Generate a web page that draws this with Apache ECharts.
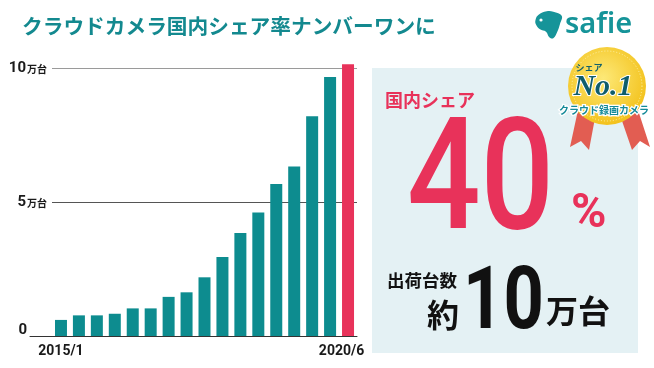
<!DOCTYPE html>
<html>
<head>
<meta charset="utf-8">
<script src="https://cdn.jsdelivr.net/npm/echarts@6/dist/echarts.min.js"></script>
<style>
html,body{margin:0;padding:0;background:#fff;}
#c{width:654px;height:368px;}
</style>
</head>
<body>
<div id="c"></div>
<script>
// ---- data ----
const categories = ['2015/1','2015/5','2015/9','2016/1','2016/5','2016/9','2017/1','2017/5','2017/9','2018/1','2018/5','2018/9','2019/1','2019/5','2019/9','2020/1','2020/6'];
const shipments = [0.60,0.77,0.77,0.83,1.03,1.03,1.46,1.63,2.19,2.95,3.84,4.61,5.67,6.32,8.20,9.66,10.14]; // 万台
const yTicks = [0, 5, 10];
const titleText = 'クラウドカメラ国内シェア率ナンバーワンに';
const shareLabel = '国内シェア';
const shareValue = '40';
const shipLabel = '出荷台数';
const shipValue = '10';

const TEAL = '#0d8c8f';
const RED = '#e8325a';
const NUM_FONT = "Roboto,sans-serif";
const JP = "'Noto Sans CJK JP',sans-serif";

const chart = echarts.init(document.getElementById('c'), null, {renderer:'canvas'});
const lastIdx = shipments.length - 1;

const barData = shipments.map((v, i) => i === lastIdx ? {value: v, itemStyle: {color: RED}} : v);

const option = {
  animation: false,
  backgroundColor: '#fff',
  grid: [
    {left: 52, right: 297, top: 68, bottom: 32},
    {left: 30, right: 297, top: 68, bottom: 32}
  ],
  xAxis: [
    {
      type: 'category', gridIndex: 0, data: categories,
      axisLine: {show: false}, axisTick: {show: false},
      axisLabel: {
        interval: (i) => i === 0 || i === lastIdx,
        margin: 8,
        color: '#1a1a1a', fontSize: 14, fontWeight: 'bold', fontFamily: NUM_FONT,
        formatter: (v, i) => i === lastIdx ? '{r|' + v + '}' : v,
        rich: {r: {fontSize: 14, fontWeight: 'bold', fontFamily: NUM_FONT, color: '#1a1a1a', padding: [0, 13, 0, 0]}}
      }
    },
    {
      type: 'category', gridIndex: 1, data: [''],
      axisLine: {show: true, lineStyle: {color: '#333', width: 1}},
      axisTick: {show: false}, axisLabel: {show: false}
    }
  ],
  yAxis: [
    {
      type: 'value', gridIndex: 0, min: yTicks[0], max: yTicks[yTicks.length - 1], interval: yTicks[1] - yTicks[0],
      axisLine: {show: false}, axisTick: {show: false},
      splitLine: {show: true, lineStyle: {color: ['rgba(0,0,0,0)', '#555', '#9a9a9a'], width: 1}},
      axisLabel: {
        margin: 5, align: 'right',
        formatter: (v) => v === 0 ? '{z|0}' : '{n|' + v + '}{u|万台}',
        rich: {
          n: {fontSize: 15, fontWeight: 'bold', fontFamily: NUM_FONT, color: '#1a1a1a'},
          u: {fontSize: 10, fontWeight: 'bold', fontFamily: JP, color: '#1a1a1a', padding: [2, 0, 0, 1]},
          z: {fontSize: 15, fontWeight: 'bold', fontFamily: NUM_FONT, color: '#1a1a1a', padding: [0, 20, 12, 0]}
        }
      }
    },
    {type: 'value', gridIndex: 1, min: 0, max: 10, show: false}
  ],
  series: [{
    type: 'bar', xAxisIndex: 0, yAxisIndex: 0,
    data: barData, barWidth: 12, clip: false,
    itemStyle: {color: TEAL}
  }],
  graphic: [
    // title
    {type: 'text', x: 22, y: 26, z: 10, style: {text: titleText, fill: '#13898f', font: "bold 20.7px 'Noto Sans CJK JP'", textAlign: 'left', textVerticalAlign: 'middle'}},
    // logo
    {type: 'polygon', z: 10, shape: {smooth: 0.4, points: [[538.3,15],[546.7,11.3],[553.3,11.7],[561.7,15.7],[560,24],[557.3,31.7],[553.3,38.3],[549.3,37.3],[546,31.7],[540,29.3],[535.7,24],[535.7,19.3]]}, style: {fill: '#169499'}},
    {type: 'circle', z: 11, shape: {cx: 541, cy: 20, r: 1.6}, style: {fill: '#fff'}},
    {type: 'text', x: 565, y: 25, z: 10, style: {text: 'safie', fill: '#169499', font: "600 29px 'Noto Sans'", textAlign: 'left', textVerticalAlign: 'middle'}},
    // right panel
    {type: 'rect', z: 1, shape: {x: 372, y: 68, width: 266, height: 285}, style: {fill: '#e4f1f4'}},
    {type: 'text', x: 385, y: 100, z: 10, style: {text: shareLabel, fill: RED, font: "bold 18px 'Noto Sans CJK JP'", textAlign: 'left', textVerticalAlign: 'middle'}},
    {type: 'text', x: 407, y: 189, scaleX: 0.83, z: 10, style: {text: shareValue, fill: RED, font: "500 156px Roboto", textAlign: 'left', textVerticalAlign: 'middle'}},
    {type: 'text', x: 571, y: 215, z: 10, style: {text: '%', fill: RED, font: "bold 48px Roboto", textAlign: 'left', textVerticalAlign: 'middle'}},
    {type: 'text', x: 387, y: 280, z: 10, style: {text: shipLabel, fill: '#111', font: "bold 17.5px 'Noto Sans CJK JP'", textAlign: 'left', textVerticalAlign: 'middle'}},
    {type: 'text', x: 427, y: 315, z: 10, style: {text: '約', fill: '#111', font: "bold 32px 'Noto Sans CJK JP'", textAlign: 'left', textVerticalAlign: 'middle'}},
    {type: 'text', x: 463, y: 306, scaleX: 0.8, z: 10, style: {text: shipValue, fill: '#111', font: "bold 88px Roboto", textAlign: 'left', textVerticalAlign: 'middle'}},
    {type: 'text', x: 546, y: 311, z: 10, style: {text: '万台', fill: '#111', font: "bold 32px 'Noto Sans CJK JP'", textAlign: 'left', textVerticalAlign: 'middle'}},
    // medal ribbons
    {type: 'polygon', z: 12, shape: {points: [[578,110],[595,118],[589,150],[581,141],[570,147]]}, style: {fill: '#e25d52'}},
    {type: 'polygon', z: 12, shape: {points: [[621,118],[638,110],[650,147],[640,141],[632,150]]}, style: {fill: '#e25d52'}},
    // medal
    {type: 'circle', z: 13, shape: {cx: 607, cy: 86, r: 39}, style: {
      fill: {type: 'radial', x: 0.45, y: 0.4, r: 0.6, colorStops: [{offset: 0, color: '#fde978'}, {offset: 1, color: '#f3c21c'}]}
    }},
    {type: 'circle', z: 14, shape: {cx: 607, cy: 86, r: 35}, style: {fill: 'none', stroke: '#fff2a8', lineWidth: 1, lineDash: [1, 2]}},
    {type: 'text', x: 589, y: 68, z: 15, style: {text: 'シェア', fill: '#11606c', font: "bold 9px 'Noto Sans CJK JP'", textAlign: 'center', textVerticalAlign: 'middle'}},
    {type: 'text', x: 603, y: 87, z: 15, style: {text: 'No.1', fill: '#0f5d6c', font: "italic bold 30px 'Liberation Serif'", textAlign: 'center', textVerticalAlign: 'middle', stroke: '#fff', lineWidth: 2}},
    {type: 'text', x: 604, y: 110, z: 15, style: {text: 'クラウド録画カメラ', fill: '#148a99', font: "bold 10px 'Noto Sans CJK JP'", textAlign: 'center', textVerticalAlign: 'middle', stroke: '#fff', lineWidth: 2.5}}
  ]
};
chart.setOption(option);
</script>
</body>
</html>
